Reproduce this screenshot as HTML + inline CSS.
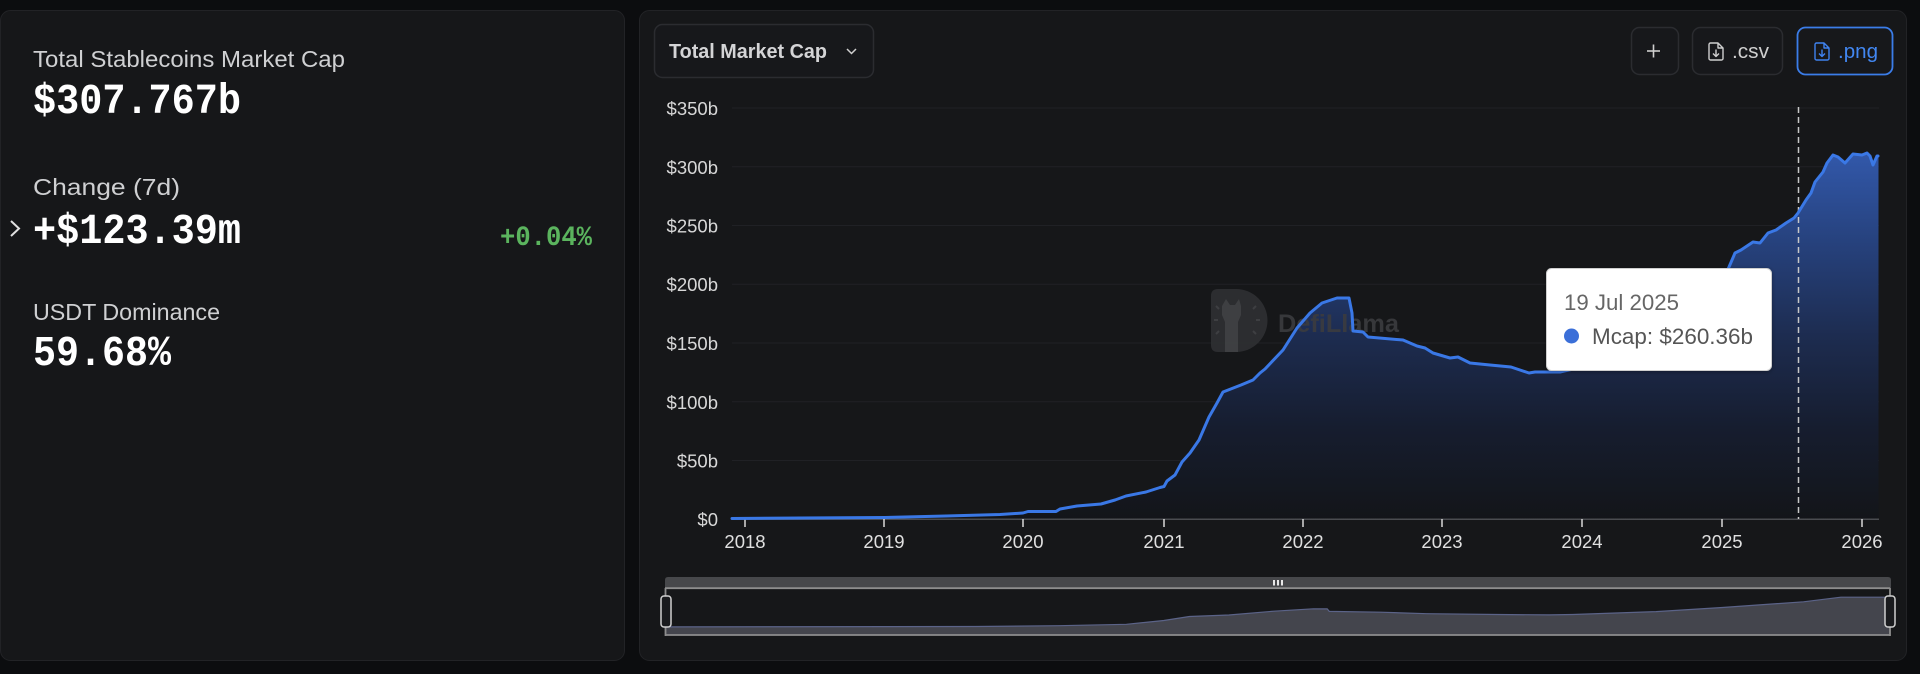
<!DOCTYPE html>
<html>
<head>
<meta charset="utf-8">
<style>
html,body{margin:0;padding:0;background:#0c0d0f;width:1920px;height:674px;overflow:hidden}
svg{display:block}
</style>
</head>
<body>
<svg width="1920" height="674" viewBox="0 0 1920 674" xmlns="http://www.w3.org/2000/svg">
  <defs>
    <linearGradient id="fillg" gradientUnits="userSpaceOnUse" x1="0" y1="153" x2="0" y2="519">
      <stop offset="0" stop-color="#3258aa"/>
      <stop offset="0.25" stop-color="#26417c"/>
      <stop offset="0.5" stop-color="#1d2c50"/>
      <stop offset="0.75" stop-color="#161d2f"/>
      <stop offset="1" stop-color="#131519"/>
    </linearGradient>
    <filter id="sh" x="-10%" y="-10%" width="120%" height="130%">
      <feDropShadow dx="0" dy="1" stdDeviation="2" flood-color="#000" flood-opacity="0.35"/>
    </filter>
  </defs>

  <rect x="0" y="0" width="1920" height="674" fill="#0c0d0f"/>

  <!-- Left panel -->
  <rect x="0.5" y="10.5" width="624" height="650" rx="10" fill="#161719" stroke="#222326"/>
  <text x="33" y="67" font-family="Liberation Sans, sans-serif" font-size="23" fill="#cfd0d2" textLength="312" lengthAdjust="spacingAndGlyphs">Total Stablecoins Market Cap</text>
  <text transform="translate(33,113) scale(1,1.12)" x="0" y="0" font-family="Liberation Mono, monospace" font-weight="bold" font-size="38" fill="#ffffff" textLength="208" lengthAdjust="spacingAndGlyphs">$307.767b</text>
  <text x="33" y="195" font-family="Liberation Sans, sans-serif" font-size="23" fill="#cfd0d2" textLength="147" lengthAdjust="spacingAndGlyphs">Change (7d)</text>
  <polyline points="11,221 19,228.5 11,236" fill="none" stroke="#e0e0e0" stroke-width="2"/>
  <text transform="translate(33,243) scale(1,1.12)" x="0" y="0" font-family="Liberation Mono, monospace" font-weight="bold" font-size="38" fill="#ffffff" textLength="208" lengthAdjust="spacingAndGlyphs">+$123.39m</text>
  <text transform="translate(500,245) scale(1,1.12)" x="0" y="0" font-family="Liberation Mono, monospace" font-weight="bold" font-size="25" fill="#5bb45e" textLength="92" lengthAdjust="spacingAndGlyphs">+0.04%</text>
  <text x="33" y="320" font-family="Liberation Sans, sans-serif" font-size="23" fill="#cfd0d2" textLength="187" lengthAdjust="spacingAndGlyphs">USDT Dominance</text>
  <text transform="translate(33,365) scale(1,1.12)" x="0" y="0" font-family="Liberation Mono, monospace" font-weight="bold" font-size="38" fill="#ffffff" textLength="138" lengthAdjust="spacingAndGlyphs">59.68%</text>

  <!-- Right panel -->
  <rect x="639.5" y="10.5" width="1267" height="650" rx="10" fill="#161719" stroke="#222326"/>

  <!-- Dropdown -->
  <rect x="654.5" y="24.5" width="219" height="53" rx="8" fill="#17181b" stroke="#2b2c30" stroke-width="1.5"/>
  <text x="669" y="58" font-family="Liberation Sans, sans-serif" font-weight="600" font-size="20.5" fill="#d4d4d6" textLength="158" lengthAdjust="spacingAndGlyphs">Total Market Cap</text>
  <polyline points="847,49 851.5,53.5 856,49" fill="none" stroke="#cfcfcf" stroke-width="1.5"/>

  <!-- Buttons -->
  <rect x="1631.5" y="27.5" width="47" height="47" rx="8" fill="#17181b" stroke="#2b2c30" stroke-width="1.5"/>
  <line x1="1647" y1="51" x2="1660" y2="51" stroke="#cfcfcf" stroke-width="1.6"/>
  <line x1="1653.5" y1="44.5" x2="1653.5" y2="57.5" stroke="#cfcfcf" stroke-width="1.6"/>

  <rect x="1692.5" y="27.5" width="90" height="47" rx="8" fill="#17181b" stroke="#2b2c30" stroke-width="1.5"/>
  <path d="M1709,44.5 a1.5,1.5 0 0 1 1.5,-1.5 H1718 L1723,48 V58.5 a1.5,1.5 0 0 1 -1.5,1.5 H1710.5 a1.5,1.5 0 0 1 -1.5,-1.5 Z M1718,43 V48 H1723 M1716,49.5 V56 M1713,53.5 L1716,56.5 L1719,53.5" fill="none" stroke="#cfcfcf" stroke-width="1.4" stroke-linejoin="round"/>
  <text x="1732" y="58" font-family="Liberation Sans, sans-serif" font-size="20.5" fill="#cfcfcf" textLength="37" lengthAdjust="spacingAndGlyphs">.csv</text>

  <rect x="1797.5" y="27.5" width="95" height="47" rx="8" fill="#17181b" stroke="#3b7de9" stroke-width="1.8"/>
  <path d="M1815,44.5 a1.5,1.5 0 0 1 1.5,-1.5 H1824 L1829,48 V58.5 a1.5,1.5 0 0 1 -1.5,1.5 H1816.5 a1.5,1.5 0 0 1 -1.5,-1.5 Z M1824,43 V48 H1829 M1822,49.5 V56 M1819,53.5 L1822,56.5 L1825,53.5" fill="none" stroke="#3f82f0" stroke-width="1.4" stroke-linejoin="round"/>
  <text x="1838" y="58" font-family="Liberation Sans, sans-serif" font-size="20.5" fill="#4287f2" textLength="40" lengthAdjust="spacingAndGlyphs">.png</text>

  <!-- Gridlines -->
  <g stroke="#202125" stroke-width="1">
    <line x1="732" y1="108" x2="1879" y2="108"/>
    <line x1="732" y1="166.75" x2="1879" y2="166.75"/>
    <line x1="732" y1="225.5" x2="1879" y2="225.5"/>
    <line x1="732" y1="284.25" x2="1879" y2="284.25"/>
    <line x1="732" y1="343" x2="1879" y2="343"/>
    <line x1="732" y1="401.75" x2="1879" y2="401.75"/>
    <line x1="732" y1="460.5" x2="1879" y2="460.5"/>
  </g>

  <!-- Y labels -->
  <g font-family="Liberation Sans, sans-serif" font-size="18.5" fill="#d8d8d8" text-anchor="end">
    <text x="718" y="115">$350b</text>
    <text x="718" y="174">$300b</text>
    <text x="718" y="232.5">$250b</text>
    <text x="718" y="291">$200b</text>
    <text x="718" y="350">$150b</text>
    <text x="718" y="409">$100b</text>
    <text x="718" y="467.5">$50b</text>
    <text x="718" y="526">$0</text>
  </g>

  <!-- Area fill -->
  <polygon fill="url(#fillg)" points="732,519.3 732,518.5 800,518 885,517.5 946,516 1000,514.5 1023,513 1028,511.5 1056,511.5 1060,509 1077,506 1101,504 1115,500 1126,496 1146,492 1160,487.5 1164,486.5 1167,481 1175,475 1182,462 1190,453 1199,440 1209,417 1217,403 1223,392 1241,385 1253,380 1260,373 1265,369 1283,350 1297,328 1310,313 1322,303 1337,298 1349,298 1352,313 1353,331 1363,332 1368,337 1403,340 1417,346 1425,348 1433,353 1450,358 1458,357 1470,363 1490,365 1511,367 1529,373 1535,372 1560,372 1582,367 1610,350 1640,337 1660,332 1690,322 1710,305 1722,282 1729,267 1735,253 1741,250 1753,242 1760,243 1768,233 1776,230 1786,223 1794,218 1798,213 1806,200 1811,193 1815,182 1823,172 1827,163 1833,155 1838,157 1845,163 1853,154 1862,155 1867,153 1870,156 1873,165 1877,156 1878.5,156 1878.5,519.3"/>

  <!-- Watermark -->
  <g opacity="0.9">
    <path d="M1218,289 H1236 A31.5,31.5 0 0 1 1236,352 H1218 Q1211,352 1211,345 V296 Q1211,289 1218,289 Z" fill="#2f3033"/>
    <polygon points="1226,299 1230,305 1235,305 1239,299 1241,306 1241,315 1238,322 1238,352 1225,352 1225,322 1222,315 1222,306" fill="#434447"/>
    <g stroke="#434447" stroke-width="2">
      <line x1="1214" y1="320" x2="1218" y2="320"/>
      <line x1="1216" y1="306" x2="1219" y2="309"/>
      <line x1="1216" y1="334" x2="1219" y2="331"/>
      <line x1="1256" y1="320" x2="1260" y2="320"/>
      <line x1="1253" y1="309" x2="1256" y2="306"/>
      <line x1="1253" y1="331" x2="1256" y2="334"/>
    </g>
    <text x="1278" y="332" font-family="Liberation Sans, sans-serif" font-weight="bold" font-size="25" fill="#3b3c3f" textLength="121" lengthAdjust="spacingAndGlyphs">DefiLlama</text>
  </g>

  <!-- Axis -->
  <line x1="732" y1="519.3" x2="1879" y2="519.3" stroke="#4a4c50" stroke-width="1.5"/>
  <g stroke="#d8d8d8" stroke-width="1.5">
    <line x1="745" y1="519" x2="745" y2="527"/>
    <line x1="884" y1="519" x2="884" y2="527"/>
    <line x1="1023" y1="519" x2="1023" y2="527"/>
    <line x1="1164" y1="519" x2="1164" y2="527"/>
    <line x1="1303" y1="519" x2="1303" y2="527"/>
    <line x1="1442" y1="519" x2="1442" y2="527"/>
    <line x1="1582" y1="519" x2="1582" y2="527"/>
    <line x1="1722" y1="519" x2="1722" y2="527"/>
    <line x1="1862" y1="519" x2="1862" y2="527"/>
  </g>
  <g font-family="Liberation Sans, sans-serif" font-size="18.5" fill="#e0e0e0" text-anchor="middle">
    <text x="745" y="548">2018</text>
    <text x="884" y="548">2019</text>
    <text x="1023" y="548">2020</text>
    <text x="1164" y="548">2021</text>
    <text x="1303" y="548">2022</text>
    <text x="1442" y="548">2023</text>
    <text x="1582" y="548">2024</text>
    <text x="1722" y="548">2025</text>
    <text x="1862" y="548">2026</text>
  </g>

  <!-- Dashed crosshair -->
  <line x1="1798.5" y1="107" x2="1798.5" y2="519" stroke="#c8c8c8" stroke-width="1.5" stroke-dasharray="6,4"/>

  <!-- Line -->
  <polyline fill="none" stroke="#3a78e6" stroke-width="3" stroke-linejoin="round" stroke-linecap="round" points="732,518.5 800,518 885,517.5 946,516 1000,514.5 1023,513 1028,511.5 1056,511.5 1060,509 1077,506 1101,504 1115,500 1126,496 1146,492 1160,487.5 1164,486.5 1167,481 1175,475 1182,462 1190,453 1199,440 1209,417 1217,403 1223,392 1241,385 1253,380 1260,373 1265,369 1283,350 1297,328 1310,313 1322,303 1337,298 1349,298 1352,313 1353,331 1363,332 1368,337 1403,340 1417,346 1425,348 1433,353 1450,358 1458,357 1470,363 1490,365 1511,367 1529,373 1535,372 1560,372 1582,367 1610,350 1640,337 1660,332 1690,322 1710,305 1722,282 1729,267 1735,253 1741,250 1753,242 1760,243 1768,233 1776,230 1786,223 1794,218 1798,213 1806,200 1811,193 1815,182 1823,172 1827,163 1833,155 1838,157 1845,163 1853,154 1862,155 1867,153 1870,156 1873,165 1877,156 1878,156"/>

  <!-- Brush / dataZoom -->
  <path d="M665,588 V580 Q665,577 668,577 H1888 Q1891,577 1891,580 V588 Z" fill="#47484b"/>
  <g fill="#e8e8e8">
    <rect x="1273" y="580" width="2" height="5.5"/>
    <rect x="1277" y="580" width="2" height="5.5"/>
    <rect x="1281" y="580" width="2" height="5.5"/>
  </g>
  <polygon fill="#44454d" points="665,635 665,626.9 975.8,626.5 1059.1,625.7 1126.4,624.3 1163.8,620.5 1189.4,616.5 1228.9,615 1273.8,611.2 1313.3,608.8 1327.2,608.9 1329.3,611.4 1380.6,612.2 1426.5,613.7 1497,614.5 1549.3,614.9 1572.8,614.5 1656.1,611.6 1722.3,607.5 1803.5,601.8 1840.9,597.2 1890,597.2 1890,635"/>
  <polyline fill="none" stroke="#5b6388" stroke-width="1.2" points="665,626.9 975.8,626.5 1059.1,625.7 1126.4,624.3 1163.8,620.5 1189.4,616.5 1228.9,615 1273.8,611.2 1313.3,608.8 1327.2,608.9 1329.3,611.4 1380.6,612.2 1426.5,613.7 1497,614.5 1549.3,614.9 1572.8,614.5 1656.1,611.6 1722.3,607.5 1803.5,601.8 1840.9,597.2 1890,597.2"/>
  <g stroke="#8e8e8e" stroke-width="1.8" fill="none">
    <line x1="665" y1="588.2" x2="1890" y2="588.2"/>
    <line x1="665" y1="635" x2="1890" y2="635"/>
    <line x1="665.5" y1="588" x2="665.5" y2="636"/>
    <line x1="1890" y1="588" x2="1890" y2="636"/>
  </g>
  <rect x="661" y="596" width="10" height="31" rx="3" fill="#1a1b1e" stroke="#d0d0d0" stroke-width="1.5"/>
  <rect x="1885" y="596" width="10" height="31" rx="3" fill="#1a1b1e" stroke="#d0d0d0" stroke-width="1.5"/>

  <!-- Tooltip -->
  <rect x="1546.5" y="268.5" width="225" height="102" rx="5" fill="#ffffff" stroke="#cfcfcf" filter="url(#sh)"/>
  <text x="1564" y="310" font-family="Liberation Sans, sans-serif" font-size="22" fill="#666666" textLength="115" lengthAdjust="spacingAndGlyphs">19 Jul 2025</text>
  <circle cx="1571.5" cy="336" r="7.5" fill="#3b6fd8"/>
  <text x="1592" y="344" font-family="Liberation Sans, sans-serif" font-size="22.5" fill="#555555" textLength="161" lengthAdjust="spacingAndGlyphs">Mcap: $260.36b</text>
</svg>
</body>
</html>
